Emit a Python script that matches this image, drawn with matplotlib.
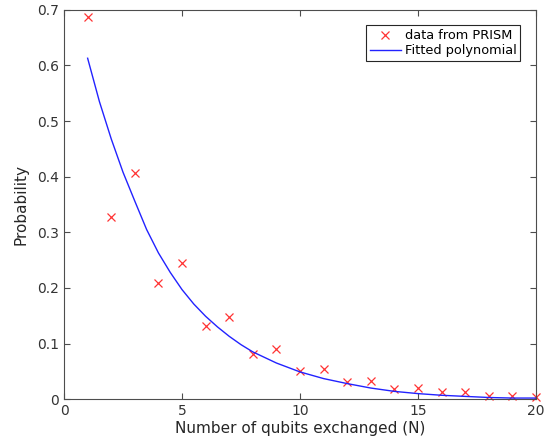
import matplotlib
matplotlib.use('Agg')
import matplotlib.pyplot as plt
import numpy as np

# data points
n_qubits = [1, 2, 3, 4, 5, 6, 7, 8, 9, 10, 11, 12, 13, 14, 15, 16, 17, 18, 19, 20]
prism_prob = [0.687, 0.327, 0.407, 0.209, 0.245, 0.131, 0.148, 0.081, 0.090, 0.050,
              0.054, 0.031, 0.032, 0.018, 0.020, 0.013, 0.012, 0.006, 0.006, 0.004]

# fitted curve
fit_x = [1, 1.5, 2, 2.5, 3, 3.5, 4, 4.5, 5, 5.5, 6, 6.5, 7, 7.5, 8, 9, 10,
         11, 12, 13, 14, 15, 16, 17, 18, 19, 20]
fit_y = [0.613, 0.535, 0.468, 0.408, 0.356, 0.305, 0.263, 0.228, 0.197, 0.171, 0.149,
         0.130, 0.113, 0.098, 0.085, 0.065, 0.049, 0.037, 0.028, 0.020, 0.014,
         0.010, 0.007, 0.005, 0.003, 0.002, 0.002]

axis_col = '#4d4d4d'

fig = plt.figure(figsize=(5.52, 4.48), dpi=100)
ax = fig.add_axes([0.116, 0.109, 0.855, 0.869])

ax.plot(n_qubits, prism_prob, 'x', color='#ff3333', markersize=6, markeredgewidth=0.9,
        label='data from PRISM', clip_on=False)
ax.plot(fit_x, fit_y, '-', color='#2222ff', linewidth=1.0, label='Fitted polynomial')

ax.set_xlim(0, 20)
ax.set_ylim(0, 0.7)
ax.set_xticks([0, 5, 10, 15, 20])
ax.set_yticks(np.arange(0, 0.71, 0.1))
ax.set_yticklabels(['0', '0.1', '0.2', '0.3', '0.4', '0.5', '0.6', '0.7'])

ax.tick_params(direction='in', top=True, right=True, length=4, width=0.8,
               colors=axis_col, labelcolor='#333333', labelsize=10)
for s in ax.spines.values():
    s.set_color(axis_col)
    s.set_linewidth(0.8)

ax.set_xlabel('Number of qubits exchanged (N)', fontsize=11, color='#262626', labelpad=2)
ax.set_ylabel('Probability', fontsize=11, color='#262626', labelpad=6)

leg = ax.legend(loc='upper right', fontsize=9.3, fancybox=False, framealpha=1,
                edgecolor='#262626', handlelength=2.4, handletextpad=0.3,
                borderpad=0.3, labelspacing=0.15, borderaxespad=1.2)
leg.get_frame().set_linewidth(0.8)

fig.savefig('out.png', dpi=100)
